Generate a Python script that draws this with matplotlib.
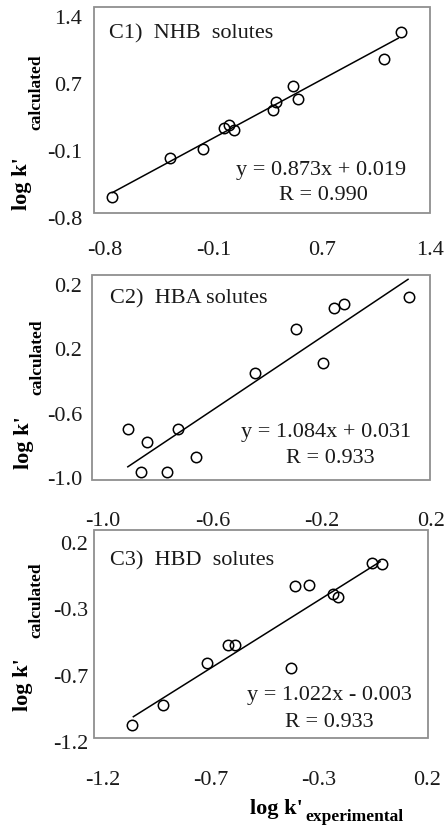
import matplotlib
matplotlib.use("Agg")
import matplotlib.pyplot as plt
from matplotlib.patches import Rectangle
import numpy as np

plt.rcParams['font.family'] = ['Liberation Serif', 'DejaVu Serif']

# ---- data ----
c1_x = [-0.751, -0.360, -0.139, 0.006, 0.041, 0.073, 0.335, 0.358, 0.475, 0.508, 1.089, 1.204]
c1_y = [-0.573, -0.147, -0.045, 0.189, 0.218, 0.163, 0.382, 0.473, 0.648, 0.503, 0.937, 1.239]
c1_fit_x = [-0.751, 1.185]
c1_fit_y = [-0.523, 1.167]

c2_x = [-0.909, -0.838, -0.860, -0.764, -0.724, -0.661, -0.445, -0.292, -0.194, -0.155, -0.117, 0.119]
c2_y = [-0.695, -0.774, -0.961, -0.961, -0.695, -0.868, -0.349, -0.075, -0.287, 0.059, 0.080, 0.127]
c2_fit_x = [-0.909, 0.116]
c2_fit_y = [-0.930, 0.235]

c3_x = [-1.073, -0.939, -0.749, -0.661, -0.630, -0.389, -0.370, -0.309, -0.205, -0.186, -0.039, 0.004]
c3_y = [-1.080, -0.940, -0.642, -0.518, -0.518, -0.677, -0.103, -0.095, -0.159, -0.178, 0.057, 0.050]
c3_fit_x = [-1.069, -0.003]
c3_fit_y = [-1.022, 0.068]

titles = ['C1)  NHB  solutes', 'C2)  HBA solutes', 'C3)  HBD  solutes']
equations = ['y = 0.873x + 0.019', 'y = 1.084x + 0.031', 'y = 1.022x - 0.003']
r_texts = ['R = 0.990', 'R = 0.933', 'R = 0.933']

c1_xticklabels = ['-0.8', '-0.1', '0.7', '1.4']
c1_yticklabels = ['-0.8', '-0.1', '0.7', '1.4']
c2_xticklabels = ['-1.0', '-0.6', '-0.2', '0.2']
c2_yticklabels = ['-1.0', '-0.6', '0.2', '0.2']
c3_xticklabels = ['-1.2', '-0.7', '-0.3', '0.2']
c3_yticklabels = ['-1.2', '-0.7', '-0.3', '0.2']

W, H = 446, 839
fig = plt.figure(figsize=(W / 100, H / 100), dpi=100)


def fx(px):
    return px / W


def fy(py):
    return 1 - py / H


def panel(rect_px, xlim, ylim, box, xs, ys, fx_, fy_, xt, xtl, yt, ytl, xpad, ypad):
    l, t, r, b = rect_px
    ax = fig.add_axes([fx(l), fy(b), (r - l) / W, (b - t) / H])
    ax.plot(xs, ys, 'o', mfc='none', mec='black', ms=7.5, mew=1.1, clip_on=False)
    ax.plot(fx_, fy_, '-', color='black', lw=1.1)
    ax.set_xlim(*xlim)
    ax.set_ylim(*ylim)
    for s in ax.spines.values():
        s.set_visible(False)
    ax.add_patch(Rectangle((box[0], box[2]), box[1] - box[0], box[3] - box[2],
                           fill=False, ec='#8f8f8f', lw=1.3, clip_on=False))
    ax.set_xticks(xt)
    ax.set_xticklabels(xtl)
    ax.set_yticks(yt)
    ax.set_yticklabels(ytl)
    ax.tick_params(axis='x', length=0, labelsize=16, pad=xpad, colors='#1a1a1a')
    ax.tick_params(axis='y', length=0, labelsize=16, pad=ypad, colors='#1a1a1a')
    return ax


panel((94, 7, 430, 218), (-0.874, 1.4), (-0.8, 1.509), (-0.874, 1.4, -0.745, 1.509),
      c1_x, c1_y, c1_fit_x, c1_fit_y,
      np.linspace(-0.8, 1.4, 4), c1_xticklabels, np.linspace(-0.8, 1.4, 4), c1_yticklabels, 16.6, 8.6)
panel((92, 275, 431, 480), (-1.040, 0.2), (-1.012, 0.262), (-1.040, 0.196, -1.012, 0.262),
      c2_x, c2_y, c2_fit_x, c2_fit_y,
      np.linspace(-1.0, 0.2, 4), c2_xticklabels, np.linspace(-1.0, 0.2, 4), c2_yticklabels, 23, 7.2)
panel((94, 530, 428, 742), (-1.239, 0.204), (-1.2, 0.291), (-1.239, 0.204, -1.172, 0.291),
      c3_x, c3_y, c3_fit_x, c3_fit_y,
      np.linspace(-1.2, 0.2, 4), c3_xticklabels, np.linspace(-1.2, 0.2, 4), c3_yticklabels, 21, 4.3)

# panel annotations
title_pos = [(109, 38), (110, 303), (110, 565)]
eq_pos = [(321, 175, 323, 200), (326, 437, 330, 463), (329, 700, 329, 727)]
for i in range(3):
    fig.text(fx(title_pos[i][0]), fy(title_pos[i][1]), titles[i], fontsize=16,
             ha='left', va='baseline', color='#1a1a1a')
    ex, ey, rx, ry = eq_pos[i]
    fig.text(fx(ex), fy(ey), equations[i], fontsize=16, ha='center', va='baseline', color='#1a1a1a')
    fig.text(fx(rx), fy(ry), r_texts[i], fontsize=16, ha='center', va='baseline', color='#1a1a1a')

# y axis labels: log k' with subscript
ylab_pos = [(22, 184, 36, 92), (24, 443, 37, 357), (23, 685, 36, 600)]
for mx, my, sx, sy in ylab_pos:
    fig.text(fx(mx), fy(my), "log k'", fontsize=16, fontweight='bold', rotation=90,
             ha='center', va='center')
    fig.text(fx(sx), fy(sy), 'calculated', fontsize=12.5, fontweight='bold', rotation=90,
             ha='center', va='center')

# x axis label
fig.text(fx(276), fy(809), "log k'", fontsize=16, fontweight='bold', ha='center', va='center')
fig.text(fx(305), fy(817), 'experimental', fontsize=12.5, fontweight='bold', ha='left', va='center')

fig.savefig('out.png', dpi=100)
